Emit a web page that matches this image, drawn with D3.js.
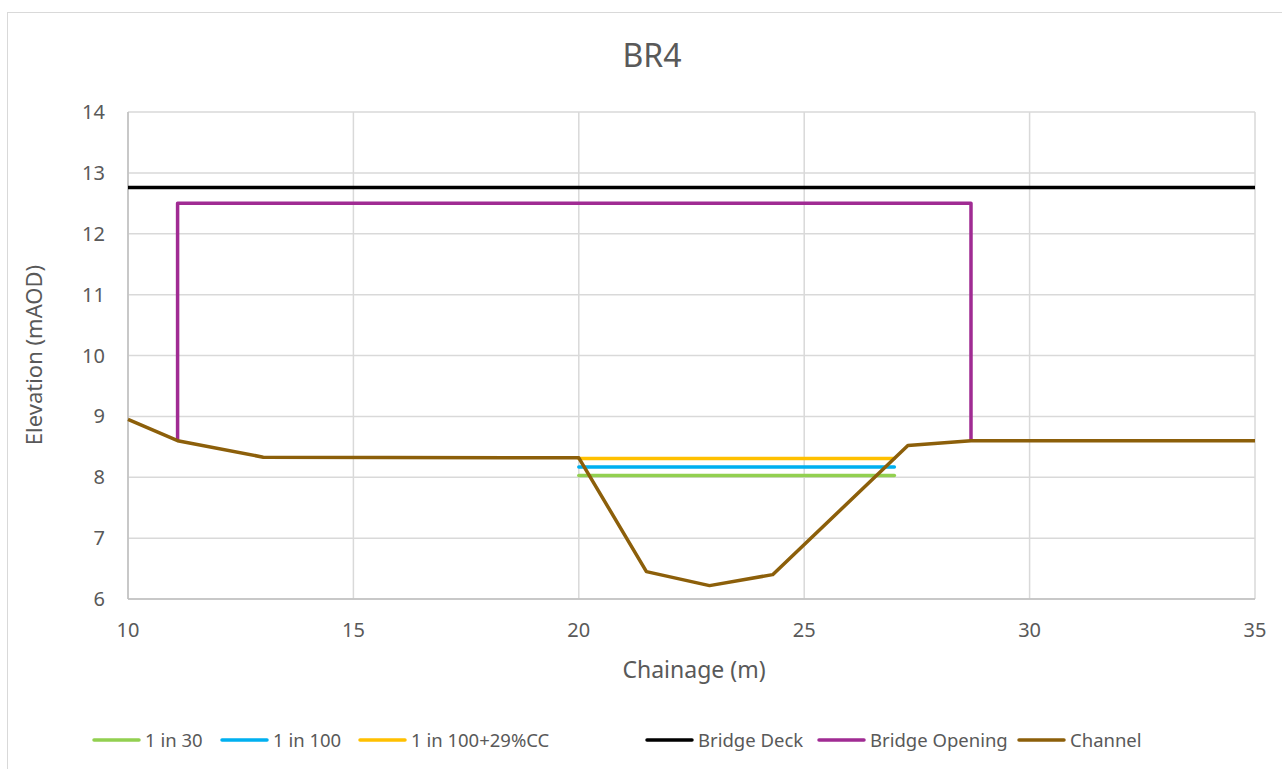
<!DOCTYPE html>
<html>
<head>
<meta charset="utf-8">
<script src="https://cdn.jsdelivr.net/npm/d3@7"></script>
<style>
  body { margin: 0; background: #fff; }
  svg text { font-family: "Noto Sans", "Open Sans", sans-serif; fill: #595959; }
</style>
</head>
<body>
<div id="chart"></div>
<script>
// series data (chainage m, elevation mAOD)
var flood30_x = [20, 27];
var flood30_y = [8.03, 8.03];
var flood100_x = [20, 27];
var flood100_y = [8.17, 8.17];
var flood100cc_x = [20, 27];
var flood100cc_y = [8.31, 8.31];
var deck_x = [10, 35];
var deck_y = [12.76, 12.76];
var opening_x = [11.1, 11.1, 28.7, 28.7];
var opening_y = [8.6, 12.5, 12.5, 8.6];
var channel_x = [10, 11.1, 13, 20, 21.5, 22.9, 24.3, 27.3, 28.7, 35];
var channel_y = [8.95, 8.6, 8.33, 8.32, 6.45, 6.22, 6.4, 8.52, 8.6, 8.6];

var x_ticks = [10, 15, 20, 25, 30, 35];
var y_ticks = [6, 7, 8, 9, 10, 11, 12, 13, 14];

var series_names = ["1 in 30", "1 in 100", "1 in 100+29%CC", "Bridge Deck", "Bridge Opening", "Channel"];
var series_colors = ["#92D050", "#00B0F0", "#FFC000", "#000000", "#A02B93", "#8C5F0A"];

var width = 1282, height = 769;
var margin = {left: 128, right: 1255, top: 112, bottom: 599};

var svg = d3.select("#chart").append("svg")
    .attr("width", width)
    .attr("height", height);

// chart border
svg.append("rect")
    .attr("x", 7.5).attr("y", 12.5)
    .attr("width", 1290).attr("height", 780)
    .attr("fill", "white")
    .attr("stroke", "#d9d9d9")
    .attr("stroke-width", 1);

var x = d3.scaleLinear().domain([10, 35]).range([margin.left, margin.right]);
var y = d3.scaleLinear().domain([6, 14]).range([margin.bottom, margin.top]);

// gridlines
svg.append("g")
  .selectAll("line.vgrid").data(x_ticks).enter().append("line")
    .attr("x1", function(d) { return x(d); })
    .attr("x2", function(d) { return x(d); })
    .attr("y1", margin.top).attr("y2", margin.bottom)
    .attr("stroke", "#d9d9d9").attr("stroke-width", 1.5);

svg.append("g")
  .selectAll("line.hgrid").data(y_ticks).enter().append("line")
    .attr("x1", margin.left).attr("x2", margin.right)
    .attr("y1", function(d) { return y(d); })
    .attr("y2", function(d) { return y(d); })
    .attr("stroke", "#d9d9d9").attr("stroke-width", 1.5);

// axis line along bottom/left a bit darker
svg.append("line")
    .attr("x1", margin.left).attr("x2", margin.right)
    .attr("y1", margin.bottom).attr("y2", margin.bottom)
    .attr("stroke", "#bfbfbf").attr("stroke-width", 1.5);
svg.append("line")
    .attr("x1", margin.left).attr("x2", margin.left)
    .attr("y1", margin.top).attr("y2", margin.bottom)
    .attr("stroke", "#bfbfbf").attr("stroke-width", 1.5);

// tick labels
svg.append("g")
  .selectAll("text").data(x_ticks).enter().append("text")
    .attr("x", function(d) { return x(d); })
    .attr("y", 637)
    .attr("text-anchor", "middle")
    .attr("font-size", "20px")
    .text(function(d) { return d; });

svg.append("g")
  .selectAll("text").data(y_ticks).enter().append("text")
    .attr("x", 105)
    .attr("y", function(d) { return y(d) + 7; })
    .attr("text-anchor", "end")
    .attr("font-size", "20px")
    .text(function(d) { return d; });

// titles
svg.append("text")
    .attr("x", 652).attr("y", 67)
    .attr("text-anchor", "middle")
    .attr("font-size", "32px")
    .text("BR4");

svg.append("text")
    .attr("x", 694).attr("y", 678)
    .attr("text-anchor", "middle")
    .attr("font-size", "23px")
    .text("Chainage (m)");

svg.append("text")
    .attr("transform", "translate(42,355) rotate(-90)")
    .attr("text-anchor", "middle")
    .attr("font-size", "22px")
    .text("Elevation (mAOD)");

// series
var line = d3.line()
    .x(function(d) { return x(d[0]); })
    .y(function(d) { return y(d[1]); });

function pairs(xs, ys) {
  return xs.map(function(v, i) { return [v, ys[i]]; });
}

var series = [
  pairs(flood30_x, flood30_y),
  pairs(flood100_x, flood100_y),
  pairs(flood100cc_x, flood100cc_y),
  pairs(deck_x, deck_y),
  pairs(opening_x, opening_y),
  pairs(channel_x, channel_y)
];

svg.append("g")
  .selectAll("path").data(series).enter().append("path")
    .attr("d", line)
    .attr("fill", "none")
    .attr("stroke", function(d, i) { return series_colors[i]; })
    .attr("stroke-width", 3.5)
    .attr("stroke-linejoin", "round")
    .attr("stroke-linecap", function(d, i) { return i < 3 ? "round" : "butt"; });

// legend
var legend_x = [93, 221, 359, 646, 818, 1018];
var legend = svg.append("g")
  .selectAll("g").data(series_names).enter().append("g")
    .attr("transform", function(d, i) { return "translate(" + legend_x[i] + ",740)"; });

legend.append("line")
    .attr("x1", 1).attr("x2", 46)
    .attr("y1", 0).attr("y2", 0)
    .attr("stroke", function(d, i) { return series_colors[i]; })
    .attr("stroke-width", 3.5)
    .attr("stroke-linecap", "round");

legend.append("text")
    .attr("x", 52).attr("y", 7)
    .attr("font-size", "18.5px")
    .text(function(d) { return d; });
</script>
</body>
</html>
